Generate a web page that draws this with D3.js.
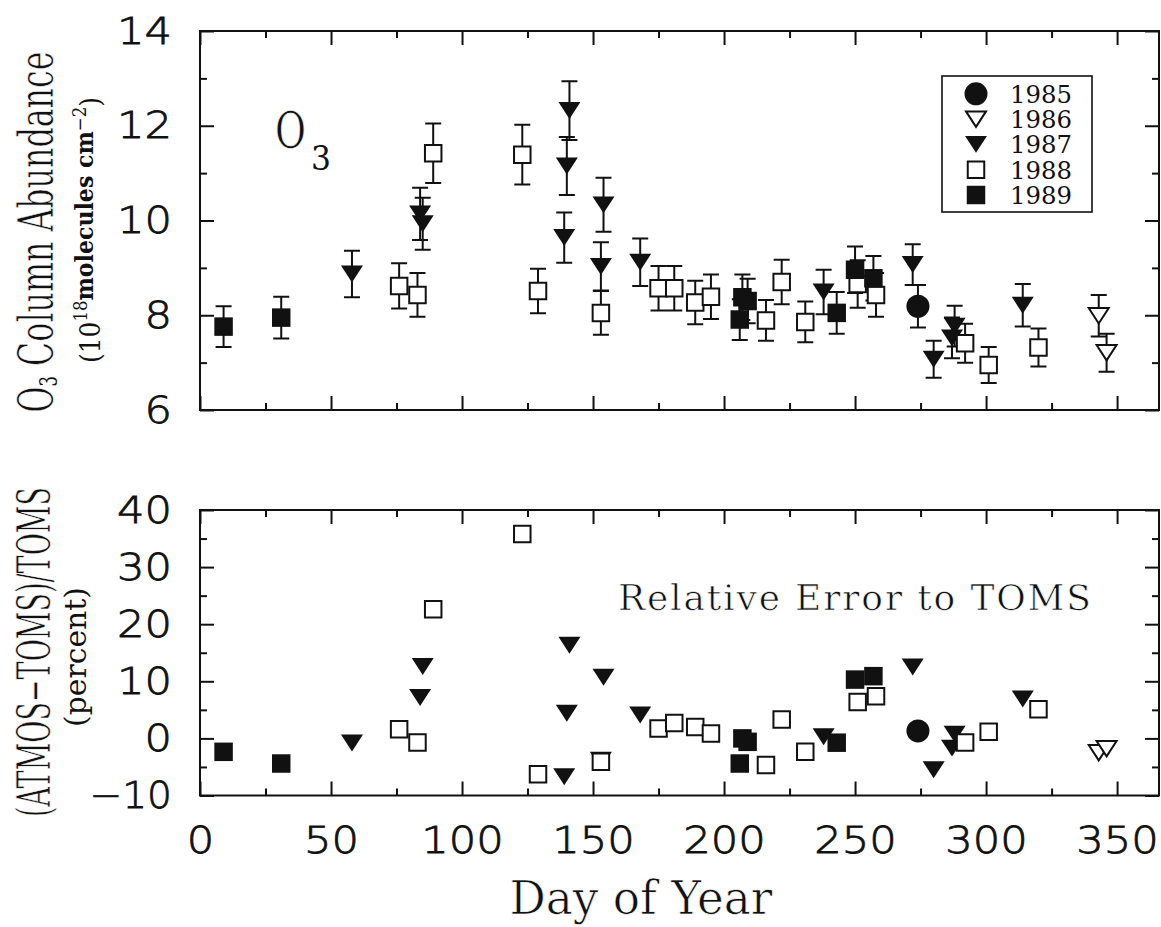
<!DOCTYPE html>
<meta charset="utf-8">

<script src="https://d3js.org/d3.v7.min.js"></script>

<style type="text/css">

body {
  margin:0;
  background:#fff;
}

.tick text {
  font-family:"DejaVu Sans", sans-serif;
  font-weight:200;
  font-size:38px;
  fill:#111;
  stroke:#111;
  stroke-width:0.8;
}

.tick line {
  stroke:#111;
  stroke-width:2;
}

.frame {
  fill:none;
  stroke:#111;
  stroke-width:2;
}

.serif {
  font-family:"DejaVu Serif", serif;
  fill:#111;
}

.thin {
  stroke:#fff;
  stroke-width:0.7;
}

</style>

<body>
</body>

<script>

// each row: [day of year, O3 column (1e18 molecules cm-2), error, (ATMOS-TOMS)/TOMS in percent]
var obs1985 = [[274, 8.19, 0.45, 1.3]];

var obs1986 = [
  [343, 7.99, 0.44, -2.5],
  [346, 7.21, 0.40, -1.8]
];

var obs1987 = [
  [58, 8.87, 0.49, -0.8],
  [84, 10.14, 0.55, 7.15],
  [85, 9.93, 0.55, 12.6],
  [139, 9.64, 0.53, -6.7],
  [140, 11.15, 0.61, 4.4],
  [141, 12.32, 0.62, 16.3],
  [153, 9.03, 0.51, -3.8],
  [154, 10.33, 0.57, 10.7],
  [168, 9.12, 0.50, 4.1],
  [238, 8.49, 0.47, 0.3],
  [272, 9.07, 0.43, 12.5],
  [280, 7.07, 0.39, -5.5],
  [287, 7.52, 0.43, -1.7],
  [288, 7.77, 0.43, 0.75],
  [314, 8.21, 0.45, 6.9]
];

var obs1988 = [
  [76, 8.62, 0.48, 1.6],
  [83, 8.43, 0.46, -0.7],
  [89, 11.42, 0.63, 22.6],
  [123, 11.39, 0.63, 35.8],
  [129, 8.51, 0.47, -6.3],
  [153, 8.05, 0.46, -4.1],
  [175, 8.57, 0.47, 1.75],
  [181, 8.57, 0.47, 2.7],
  [189, 8.27, 0.46, 2.0],
  [195, 8.39, 0.47, 0.85],
  [216, 7.89, 0.43, -4.65],
  [222, 8.70, 0.47, 3.3],
  [231, 7.86, 0.43, -2.35],
  [251, 8.66, 0.50, 6.36],
  [258, 8.43, 0.46, 7.4],
  [292, 7.41, 0.41, -0.7],
  [301, 6.95, 0.38, 1.15],
  [320, 7.32, 0.40, 5.1]
];

var obs1989 = [
  [9, 7.76, 0.43, -2.35],
  [31, 7.95, 0.44, -4.4],
  [206, 7.91, 0.43, -4.4],
  [207, 8.38, 0.48, 0.0],
  [209, 8.30, 0.47, -0.6],
  [243, 8.05, 0.44, -0.75],
  [250, 8.96, 0.49, 10.3],
  [257, 8.78, 0.47, 10.9]
];

var years = ['1985', '1986', '1987', '1988', '1989'];

//tick values
var xMajor = [0, 50, 100, 150, 200, 250, 300, 350];
var xMinor = [25, 75, 125, 175, 225, 275, 325];
var topMajor = [6, 8, 10, 12, 14];
var topMinor = [7, 9, 11, 13];
var botMajor = [-10, 0, 10, 20, 30, 40];
var botMinor = [-5, 5, 15, 25, 35];

var series = [obs1985, obs1986, obs1987, obs1988, obs1989].map(function(rows, i) {
  return rows.map(function(r) {
    return {year: years[i], day: r[0], o3: r[1], err: r[2], rel: r[3]};
  });
});
var allObs = d3.merge(series);

//variable definitions
var W = 1161, H = 927;
var left = 200, right = 1159;
var majorLen = 14, minorLen = 7, capW = 8;
var digitW = 27.5;

// downward pointing triangle, bbox centred
var triDown = {
  draw: function(ctx, size) {
    var w = Math.sqrt(size), h = w * 0.77;
    ctx.moveTo(-w / 2, -h / 2);
    ctx.lineTo(w / 2, -h / 2);
    ctx.lineTo(0, h / 2);
    ctx.closePath();
  }
};

var markStyle = {
  '1985': {type: d3.symbolCircle, size: Math.PI * 11.5 * 11.5, fill: '#111', stroke: 'none'},
  '1986': {type: triDown, size: 20 * 20, fill: '#fff', stroke: '#111'},
  '1987': {type: triDown, size: 22 * 22, fill: '#111', stroke: 'none'},
  '1988': {type: d3.symbolSquare, size: 16.5 * 16.5, fill: '#fff', stroke: '#111'},
  '1989': {type: d3.symbolSquare, size: 18.5 * 18.5, fill: '#111', stroke: 'none'}
};

var svg = d3.select('body').append('svg')
  .attr('width', W)
  .attr('height', H);

//scales
var xScale = d3.scaleLinear()
  .domain([0, 366])
  .range([left, right]);

var yTop = d3.scaleLinear()
  .domain([6, 14])
  .range([410, 31]);

var yBot = d3.scaleLinear()
  .domain([-10, 40])
  .range([795.5, 510]);

function noDomain(g) { g.select('.domain').remove(); }

// stretch the tick labels to the wide lettering of the original
function wideLabels(g) {
  g.selectAll('.tick text')
    .attr('textLength', function() { return this.textContent.length * digitW; })
    .attr('lengthAdjust', 'spacingAndGlyphs');
}

// squeeze a label horizontally so that it runs 'len' pixels
function fitLabel(t, x, y, rot, len) {
  var sx = len / t.node().getComputedTextLength();
  t.attr('transform', 'translate(' + x + ',' + y + ') rotate(' + rot + ') scale(' + sx + ',1)');
}

function drawFrame(y, yMaj, yMin, xLabels) {
  var y0 = y.range()[0], y1 = y.range()[1];
  var g = svg.append('g');

  //bottom
  g.append('g').attr('transform', 'translate(0,' + y0 + ')')
    .call(d3.axisBottom(xScale).tickValues(xMinor).tickSizeInner(-minorLen).tickSizeOuter(0).tickFormat(''))
    .call(noDomain);
  g.append('g').attr('class', 'x axis').attr('transform', 'translate(0,' + y0 + ')')
    .call(d3.axisBottom(xScale).tickValues(xMajor).tickSizeInner(-majorLen).tickSizeOuter(0).tickPadding(31)
      .tickFormat(xLabels ? d3.format('d') : ''))
    .call(noDomain)
    .call(wideLabels);
  //top
  g.append('g').attr('transform', 'translate(0,' + y1 + ')')
    .call(d3.axisTop(xScale).tickValues(xMinor).tickSizeInner(-minorLen).tickSizeOuter(0).tickFormat(''))
    .call(noDomain);
  g.append('g').attr('transform', 'translate(0,' + y1 + ')')
    .call(d3.axisTop(xScale).tickValues(xMajor).tickSizeInner(-majorLen).tickSizeOuter(0).tickFormat(''))
    .call(noDomain);
  //left
  g.append('g').attr('transform', 'translate(' + left + ',0)')
    .call(d3.axisLeft(y).tickValues(yMin).tickSizeInner(-minorLen).tickSizeOuter(0).tickFormat(''))
    .call(noDomain);
  g.append('g').attr('class', 'y axis').attr('transform', 'translate(' + left + ',0)')
    .call(d3.axisLeft(y).tickValues(yMaj).tickSizeInner(-majorLen).tickSizeOuter(0).tickPadding(28))
    .call(noDomain)
    .call(wideLabels);
  //right
  g.append('g').attr('transform', 'translate(' + right + ',0)')
    .call(d3.axisRight(y).tickValues(yMin).tickSizeInner(-minorLen).tickSizeOuter(0).tickFormat(''))
    .call(noDomain);
  g.append('g').attr('transform', 'translate(' + right + ',0)')
    .call(d3.axisRight(y).tickValues(yMaj).tickSizeInner(-majorLen).tickSizeOuter(0).tickFormat(''))
    .call(noDomain);

  g.append('rect')
    .attr('class', 'frame')
    .attr('x', left)
    .attr('y', y1)
    .attr('width', right - left)
    .attr('height', y0 - y1);
}

drawFrame(yTop, topMajor, topMinor, false);
drawFrame(yBot, botMajor, botMinor, true);

function drawMarks(g, data, yAcc) {
  g.selectAll('.mark')
    .data(data)
    .enter().append('path')
    .attr('class', 'mark')
    .attr('transform', function(d) { return 'translate(' + xScale(d.day) + ',' + yAcc(d) + ')'; })
    .attr('d', function(d) { var s = markStyle[d.year]; return d3.symbol().type(s.type).size(s.size)(); })
    .attr('fill', function(d) { return markStyle[d.year].fill; })
    .attr('stroke', function(d) { return markStyle[d.year].stroke; })
    .attr('stroke-width', 2);
}

//top panel: error bars then markers
var topG = svg.append('g');
topG.selectAll('.errbar')
  .data(allObs)
  .enter().append('path')
  .attr('class', 'errbar')
  .attr('fill', 'none')
  .attr('stroke', '#111')
  .attr('stroke-width', 2)
  .attr('d', function(d) {
    var x = xScale(d.day), lo = yTop(d.o3 - d.err), hi = yTop(d.o3 + d.err);
    return 'M' + (x - capW) + ',' + hi + 'H' + (x + capW) +
      'M' + x + ',' + hi + 'V' + lo +
      'M' + (x - capW) + ',' + lo + 'H' + (x + capW);
  });
drawMarks(topG, allObs, function(d) { return yTop(d.o3); });

//bottom panel markers
var botG = svg.append('g');
drawMarks(botG, allObs, function(d) { return yBot(d.rel); });

//legend
var legend = svg.append('g');
legend.append('rect')
  .attr('x', 942).attr('y', 76)
  .attr('width', 150).attr('height', 136)
  .attr('fill', '#fff')
  .attr('stroke', '#111')
  .attr('stroke-width', 1.6);

var legItem = legend.selectAll('.legItem')
  .data(years)
  .enter().append('g')
  .attr('class', 'legItem')
  .attr('transform', function(d, i) { return 'translate(976,' + (93.8 + i * 25.3) + ')'; });

legItem.append('path')
  .attr('d', function(d) { var s = markStyle[d]; return d3.symbol().type(s.type).size(s.size)(); })
  .attr('fill', function(d) { return markStyle[d].fill; })
  .attr('stroke', function(d) { return markStyle[d].stroke; })
  .attr('stroke-width', 2);

legItem.append('text')
  .attr('class', 'serif')
  .attr('font-size', 24)
  .text(function(d) { return d; })
  .each(function() { fitLabel(d3.select(this), 34, 9, 0, 62); });

//labels inside panels
fitLabel(svg.append('text').attr('class', 'serif thin')
  .attr('font-size', 50)
  .text('O'), 275, 148, 0, 31);
fitLabel(svg.append('text').attr('class', 'serif')
  .attr('font-size', 34)
  .text('3'), 311, 170, 0, 20);

svg.append('text').attr('class', 'serif thin')
  .attr('x', 618).attr('y', 610)
  .attr('font-size', 36)
  .attr('textLength', 473).attr('lengthAdjust', 'spacing')
  .text('Relative Error to TOMS');

//axis titles
fitLabel(svg.append('text').attr('class', 'serif thin')
  .attr('text-anchor', 'middle')
  .attr('font-size', 46)
  .text('Day of Year'), 641, 914, 0, 263);

var t1 = svg.append('text').attr('class', 'serif thin')
  .attr('text-anchor', 'middle')
  .attr('font-size', 48);
t1.append('tspan').text('O');
t1.append('tspan').attr('font-size', 25).attr('stroke-width', 0).attr('dy', 4).text('3');
t1.append('tspan').attr('dy', -4).text(' Column Abundance');
fitLabel(t1, 53, 232, -90, 361);

var t2 = svg.append('text').attr('class', 'serif')
  .attr('text-anchor', 'middle')
  .attr('font-size', 27);
t2.append('tspan').text('(10');
t2.append('tspan').attr('font-size', 18).attr('dy', -13).text('18');
t2.append('tspan').attr('font-size', 24).attr('font-weight', 'bold').attr('dy', 6).text('molecules cm');
t2.append('tspan').attr('font-size', 18).attr('dy', -7).text('\u22122');
t2.append('tspan').attr('dy', 14).text(')');
fitLabel(t2, 100, 230, -90, 266);

fitLabel(svg.append('text').attr('class', 'serif thin')
  .attr('text-anchor', 'middle')
  .attr('font-size', 46)
  .text('(ATMOS\u2212TOMS)/TOMS'), 50, 652, -90, 330);

fitLabel(svg.append('text').attr('class', 'serif')
  .attr('text-anchor', 'middle')
  .attr('font-size', 29)
  .text('(percent)'), 86, 657, -90, 140);

</script>
